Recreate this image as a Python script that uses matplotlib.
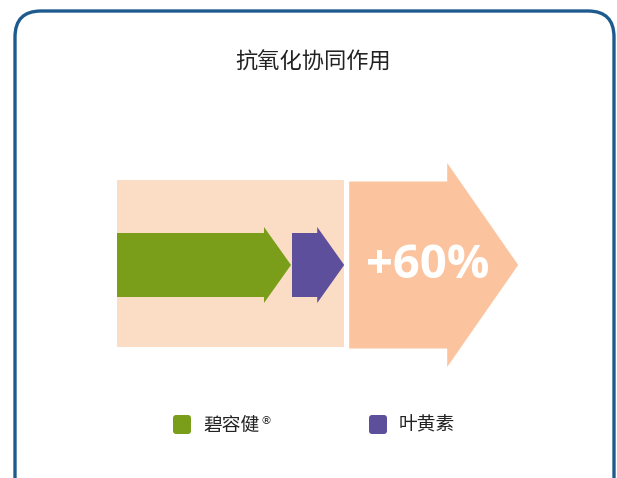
import matplotlib
matplotlib.use("Agg")
import matplotlib.pyplot as plt
from matplotlib.patches import Polygon, FancyBboxPatch, Rectangle

plt.rcParams['font.family'] = ['Noto Sans CJK SC', 'DejaVu Sans']

title = '抗氧化协同作用'
labels = ['碧容健', '叶黄素']
colors = ['#7A9E1A', '#5E4F9C']
# relative effect of each ingredient (green = base)
effects = [100, 30]
synergy = 60  # extra effect in percent

box_color = '#FBDCC5'
big_color = '#FBC49E'
border_color = '#1D5A8E'


def arrow(ax, x0, x1, yc, body_h, head_h, head_l, color):
    pts = [(x0, yc - body_h / 2), (x1 - head_l, yc - body_h / 2),
           (x1 - head_l, yc - head_h / 2), (x1, yc),
           (x1 - head_l, yc + head_h / 2), (x1 - head_l, yc + body_h / 2),
           (x0, yc + body_h / 2)]
    ax.add_patch(Polygon(pts, closed=True, facecolor=color, edgecolor='none'))


fig = plt.figure(figsize=(6.17, 4.78), dpi=100)
ax = fig.add_axes([0, 0, 1, 1])
ax.set_xlim(0, 617)
ax.set_ylim(478, 0)
ax.axis('off')

# rounded frame (bottom runs off the picture)
ax.add_patch(FancyBboxPatch((15, 11), 599, 500,
                            boxstyle='round,pad=0,rounding_size=26',
                            facecolor='white', edgecolor=border_color, lw=2.4))

ax.text(313, 62, title, ha='center', va='center', fontsize=16, color='#222222')

# scale: effect units -> pixels
x0 = 117
px = 1.74
yc = 265

# light background box covering both ingredients
total = sum(effects)
ax.add_patch(Rectangle((x0, 180), total * px + 1, 167, facecolor=box_color, edgecolor='none'))

start = x0
for val, col in zip(effects, colors):
    end = start + val * px
    arrow(ax, start, end, yc, 64, 76, 27, col)
    start = end + 1

# synergy arrow
bx0 = x0 + total * px + 6
arrow(ax, bx0, bx0 + 169, yc, 167, 204, 71, big_color)
ax.text(bx0 + 79, yc + 1, '+%d%%' % synergy, ha='center', va='center',
        fontsize=34, fontweight='bold', color='white', family=['Open Sans', 'DejaVu Sans'])

# legend
leg_x = [173, 369]
for lx, lab, col in zip(leg_x, labels, colors):
    ax.add_patch(FancyBboxPatch((lx, 415), 18, 19,
                                boxstyle='round,pad=0,rounding_size=3',
                                facecolor=col, edgecolor='none'))
    ax.text(lx + 30, 425, lab, ha='left', va='center', fontsize=13.5, color='#222222')
ax.text(leg_x[0] + 87, 421, '®', ha='left', va='center', fontsize=8,
        color='#222222', family=['DejaVu Sans'])

fig.savefig('out.png', dpi=100)
